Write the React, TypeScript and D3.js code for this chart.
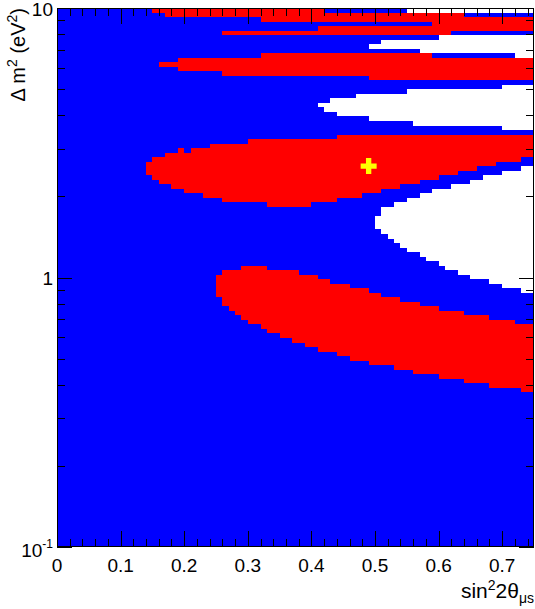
import React, { useEffect, useRef } from 'react';
import * as d3 from 'd3';

const WIDTH = 535;
const HEIGHT = 609;
const LEFT = 57;
const RIGHT = 534;
const TOP = 8;
const BOTTOM = 547;

// histogram binning (x: sin^2 2theta, y: log bins of dm^2, counted from the top)
const SIN2_MAX = 0.75;
const N_XBINS = 75;
const DM2_MIN = 0.0971;
const DM2_MAX = 10;
const N_YBINS = 120;

const BLUE = '#0000ff';
const RED = '#ff0000';
const WHITE = '#ffffff';
const COLORS: Record<string, string> = { B: BLUE, R: RED, W: WHITE };

// top band, rows 0..27 from the top, run lengths over the 75 x bins
const TOP_ROWS = [
  'B15 R27 B13 W20',
  'B17 R47 B11',
  'B32 R43',
  'B59 R16',
  'B41 R34',
  'B26 R36 B13',
  'B60 W15',
  'B51 W24',
  'B49 W26',
  'B57 W18',
  'B32 R27 B13 W3',
  'B19 R56',
  'B16 R59',
  'B19 R56',
  'B26 R49',
  'B49 R26',
  'B75',
  'B70 W5',
  'B55 W20',
  'B47 W28',
  'B43 W32',
  'B41 W34',
  'B42 W33',
  'B44 W31',
  'B49 W26',
  'B56 W19',
  'B70 W5',
  'B75',
];

// [first x bin, last x bin, first row, end row]
const UPPER_RED = [
  [14, 14, 34, 37], [15, 15, 33, 38], [16, 16, 33, 39], [17, 17, 32, 39],
  [18, 18, 32, 40], [19, 19, 31, 40], [20, 20, 32, 41], [21, 22, 31, 41],
  [23, 23, 31, 42], [24, 25, 30, 42], [26, 29, 30, 43], [30, 32, 29, 43],
  [33, 39, 29, 44], [40, 43, 29, 43], [44, 47, 28, 42], [48, 50, 28, 41],
  [51, 53, 28, 40], [54, 56, 28, 39], [57, 59, 28, 38], [60, 62, 28, 37],
  [63, 65, 28, 36], [66, 68, 28, 35], [69, 72, 28, 34], [73, 74, 28, 33],
];

const WHITE_MID = [
  [50, 50, 46, 49], [51, 51, 44, 50], [52, 52, 44, 51], [53, 53, 43, 52],
  [54, 54, 43, 53], [55, 56, 42, 54], [57, 57, 41, 55], [58, 58, 41, 56],
  [59, 59, 40, 56], [60, 60, 40, 57], [61, 61, 40, 58], [62, 62, 39, 58],
  [63, 64, 39, 59], [65, 66, 38, 60], [67, 67, 37, 60], [68, 69, 37, 61],
  [70, 72, 36, 62], [73, 74, 35, 63],
];

const LOWER_RED = [
  [25, 25, 59, 64], [26, 26, 58, 66], [27, 27, 58, 67], [28, 28, 58, 68],
  [29, 29, 57, 69], [30, 31, 57, 70], [32, 32, 57, 71], [33, 34, 58, 72],
  [35, 36, 58, 73], [37, 37, 58, 74], [38, 38, 59, 74], [39, 40, 59, 75],
  [41, 42, 60, 76], [43, 43, 61, 76], [44, 45, 61, 77], [46, 48, 62, 78],
  [49, 50, 63, 79], [51, 52, 64, 79], [53, 53, 64, 80], [54, 55, 65, 80],
  [56, 56, 65, 81], [57, 59, 66, 81], [60, 63, 67, 82], [64, 67, 68, 83],
  [68, 71, 69, 84], [72, 72, 70, 84], [73, 74, 70, 85],
];

const BEST_FIT = { sin2: 0.49, dm2: 2.59 };

const X_MAJOR = [0, 0.1, 0.2, 0.3, 0.4, 0.5, 0.6, 0.7];
const X_LABELS = ['0', '0.1', '0.2', '0.3', '0.4', '0.5', '0.6', '0.7'];
const X_MINOR = [0.02, 0.04, 0.06, 0.08, 0.12, 0.14, 0.16, 0.18, 0.22, 0.24, 0.26, 0.28,
  0.32, 0.34, 0.36, 0.38, 0.42, 0.44, 0.46, 0.48, 0.52, 0.54, 0.56, 0.58,
  0.62, 0.64, 0.66, 0.68, 0.72, 0.74];
const Y_MAJOR = [0.1, 1, 10];
const Y_MINOR = [0.2, 0.3, 0.4, 0.5, 0.6, 0.7, 0.8, 0.9, 2, 3, 4, 5, 6, 7, 8, 9];

const FONT = 'Liberation Sans, Arial, Helvetica, sans-serif';

function buildGrid() {
  const grid: string[][] = [];
  for (let j = 0; j < N_YBINS; j++) grid.push(new Array(N_XBINS).fill('B'));
  TOP_ROWS.forEach((row, j) => {
    let c = 0;
    row.split(' ').forEach((run) => {
      const code = run[0];
      const n = +run.slice(1);
      for (let k = 0; k < n; k++) grid[j][c++] = code;
    });
  });
  const paint = (list: number[][], code: string) => {
    list.forEach(([c0, c1, j0, j1]) => {
      for (let c = c0; c <= c1; c++)
        for (let j = j0; j < j1; j++) grid[j][c] = code;
    });
  };
  paint(UPPER_RED, 'R');
  paint(WHITE_MID, 'W');
  paint(LOWER_RED, 'R');
  return grid;
}

export default function App() {
  const axesRef = useRef<SVGGElement>(null);

  const x = d3.scaleLinear().domain([0, SIN2_MAX]).range([LEFT, RIGHT]);
  const y = d3.scaleLog().domain([0.1, 10]).range([BOTTOM, TOP]);

  const logHi = Math.log10(DM2_MAX);
  const logStep = (logHi - Math.log10(DM2_MIN)) / N_YBINS;
  const xEdge = (c: number) => x((c * SIN2_MAX) / N_XBINS);
  const yEdge = (j: number) => y(Math.pow(10, logHi - j * logStep));

  const grid = buildGrid();
  const cells: { key: string; x: number; y: number; w: number; h: number; fill: string }[] = [];
  grid.forEach((row, j) => {
    let c = 0;
    while (c < N_XBINS) {
      const code = row[c];
      let e = c;
      while (e + 1 < N_XBINS && row[e + 1] === code) e++;
      if (code !== 'B') {
        cells.push({
          key: `${j}-${c}`,
          x: xEdge(c),
          y: yEdge(j),
          w: xEdge(e + 1) - xEdge(c),
          h: yEdge(j + 1) - yEdge(j),
          fill: COLORS[code],
        });
      }
      c = e + 1;
    }
  });

  useEffect(() => {
    const g = d3.select(axesRef.current);
    g.selectAll('*').remove();
    const add = (axis: any, tr: string) =>
      g.append('g').attr('transform', tr).call(axis).call((s: any) => s.select('.domain').remove());
    const blank = () => '';
    add(d3.axisBottom(x).tickValues(X_MINOR).tickSize(-8).tickFormat(blank), `translate(0,${BOTTOM})`);
    add(d3.axisBottom(x).tickValues(X_MAJOR).tickSize(-16).tickFormat(blank), `translate(0,${BOTTOM})`);
    add(d3.axisTop(x).tickValues(X_MINOR).tickSize(-8).tickFormat(blank), `translate(0,${TOP})`);
    add(d3.axisTop(x).tickValues(X_MAJOR).tickSize(-16).tickFormat(blank), `translate(0,${TOP})`);
    add(d3.axisLeft(y).tickValues(Y_MINOR).tickSize(-8).tickFormat(blank), `translate(${LEFT},0)`);
    add(d3.axisLeft(y).tickValues(Y_MAJOR).tickSize(-15).tickFormat(blank), `translate(${LEFT},0)`);
    add(d3.axisRight(y).tickValues(Y_MINOR).tickSize(-8).tickFormat(blank), `translate(${RIGHT},0)`);
    add(d3.axisRight(y).tickValues(Y_MAJOR).tickSize(-15).tickFormat(blank), `translate(${RIGHT},0)`);
    g.selectAll('line').attr('stroke', '#000');
  }, []);

  const cross = d3.symbol().type(d3.symbolCross).size(142)();

  return (
    <svg width={WIDTH} height={HEIGHT} style={{ position: 'absolute', left: 0, top: 0, background: '#fff' }}
      fontFamily={FONT}>
      <defs>
        <clipPath id="plot">
          <rect x={LEFT} y={TOP} width={RIGHT - LEFT} height={BOTTOM - TOP} />
        </clipPath>
      </defs>
      <g clipPath="url(#plot)" shapeRendering="crispEdges">
        <rect x={LEFT} y={TOP} width={RIGHT - LEFT} height={BOTTOM - TOP} fill={BLUE} />
        {cells.map((d) => (
          <rect key={d.key} x={d.x} y={d.y} width={d.w} height={d.h} fill={d.fill} />
        ))}
      </g>
      <path d={cross as string} fill="#ffff00"
        transform={`translate(${x(BEST_FIT.sin2)},${y(BEST_FIT.dm2)})`} />
      <g ref={axesRef} shapeRendering="crispEdges" />
      <rect x={LEFT + 0.5} y={TOP + 0.5} width={RIGHT - LEFT - 1} height={BOTTOM - TOP - 1}
        fill="none" stroke="#000" strokeWidth={1} shapeRendering="crispEdges" />

      {X_MAJOR.map((v, i) => (
        <text key={v} x={x(v)} y={572} fontSize={19} textAnchor="middle">{X_LABELS[i]}</text>
      ))}
      <text x={LEFT - 4} y={y(10) + 8} fontSize={19} textAnchor="end">10</text>
      <text x={LEFT - 4} y={y(1) + 7} fontSize={19} textAnchor="end">1</text>
      <text x={LEFT - 4} y={y(0.1) + 10} fontSize={19} textAnchor="end">
        10<tspan dy={-9} fontSize={12}>-1</tspan>
      </text>

      <text x={RIGHT} y={598} fontSize={21} textAnchor="end">
        sin<tspan dy={-8} fontSize={14}>2</tspan><tspan dy={8}>2θ</tspan>
        <tspan dy={5} fontSize={14}>μs</tspan>
      </text>
      <text transform={`translate(25,${TOP}) rotate(-90)`} fontSize={20} textAnchor="end">
        Δ m<tspan dy={-8} fontSize={14}>2</tspan><tspan dy={8}> (eV</tspan>
        <tspan dy={-8} fontSize={14}>2</tspan><tspan dy={8}>)</tspan>
      </text>
    </svg>
  );
}
